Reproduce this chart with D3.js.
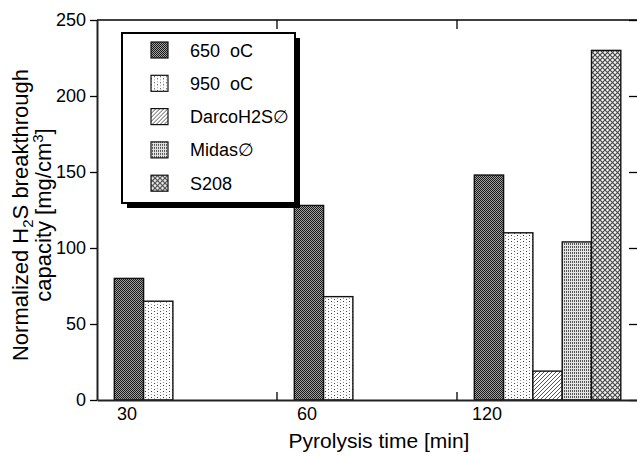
<!DOCTYPE html>
<html>
<head>
<meta charset="utf-8">
<script src="https://cdn.jsdelivr.net/npm/d3@7"></script>
<style>
  html, body { margin: 0; padding: 0; background: #fff; }
  text { font-family: Arial, "Liberation Sans", Helvetica, sans-serif; fill: #000; white-space: pre; }
</style>
</head>
<body>
<svg id="chart" width="637" height="457"></svg>
<script>
// ---- data ----
const categories = ["30", "60", "120"];
const seriesNames = ["650  oC", "950  oC", "DarcoH2S\u2205", "Midas\u2205", "S208"];
const values650 = [80, 128, 148];
const values950 = [65, 68, 110];
const valuesDarco = [null, null, 19];
const valuesMidas = [null, null, 104];
const valuesS208 = [null, null, 230];
const yTicks = [0, 50, 100, 150, 200, 250];

const seriesValues = [values650, values950, valuesDarco, valuesMidas, valuesS208];
const patternIds = ["p650", "p950", "pDarco", "pMidas", "pS208"];

const svg = d3.select("#chart");
const defs = svg.append("defs");

// patterns
function pat(id, w, h) {
  return defs.append("pattern").attr("id", id).attr("patternUnits", "userSpaceOnUse")
    .attr("width", w).attr("height", h);
}
{ // 650: dark checker
  const p = pat("p650", 2, 2);
  p.append("rect").attr("width", 2).attr("height", 2).attr("fill", "#a0a0a0");
  p.append("rect").attr("x", 0).attr("y", 0).attr("width", 1).attr("height", 1).attr("fill", "#1a1a1a");
  p.append("rect").attr("x", 1).attr("y", 1).attr("width", 1).attr("height", 1).attr("fill", "#1a1a1a");
}
{ // 950: sparse dots
  const p = pat("p950", 6, 6);
  p.append("rect").attr("width", 6).attr("height", 6).attr("fill", "#fff");
  p.append("rect").attr("x", 1).attr("y", 1).attr("width", 1).attr("height", 1).attr("fill", "#333");
  p.append("rect").attr("x", 4).attr("y", 2).attr("width", 1).attr("height", 1).attr("fill", "#999");
  p.append("rect").attr("x", 1).attr("y", 4).attr("width", 1).attr("height", 1).attr("fill", "#999");
  p.append("rect").attr("x", 4).attr("y", 5).attr("width", 1).attr("height", 1).attr("fill", "#444");
}
{ // Darco: diagonal hatch
  const p = pat("pDarco", 4, 4);
  p.append("rect").attr("width", 4).attr("height", 4).attr("fill", "#fff");
  p.append("path").attr("d", "M-1,1 L1,-1 M0,4 L4,0 M3,5 L5,3").attr("stroke", "#555").attr("stroke-width", 1);
}
{ // Midas: dense vertical dotted
  const p = pat("pMidas", 2, 3);
  p.append("rect").attr("width", 2).attr("height", 3).attr("fill", "#e4e4e4");
  p.append("rect").attr("x", 0).attr("y", 0).attr("width", 1).attr("height", 2).attr("fill", "#555");
}
{ // S208: crosshatch diamonds
  const p = pat("pS208", 5, 5);
  p.append("rect").attr("width", 5).attr("height", 5).attr("fill", "#f2f2f2");
  p.append("path").attr("d", "M0,0 L5,5 M5,0 L0,5").attr("stroke", "#444").attr("stroke-width", 1.1);
}

// scales
const pLeft = 97, pRight = 637, pTop = 20, pBottom = 400;
const x0 = d3.scaleBand().domain(categories).range([pLeft, pRight]).paddingInner(0).paddingOuter(0);
const gw = x0.bandwidth();
const x1 = d3.scaleBand().domain(seriesNames).range([17.3, 17.3 + 146.5]).padding(0);
const y = d3.scaleLinear().domain([0, 250]).range([pBottom, pTop]);

// bars
const barData = [];
categories.forEach((c, ci) => {
  seriesNames.forEach((s, si) => {
    const v = seriesValues[si][ci];
    if (v != null) barData.push({ c, s, si, v });
  });
});
svg.append("g").selectAll("rect").data(barData).join("rect")
  .attr("x", d => x0(d.c) + x1(d.s))
  .attr("y", d => y(d.v))
  .attr("width", x1.bandwidth())
  .attr("height", d => y(0) - y(d.v))
  .attr("fill", d => `url(#${patternIds[d.si]})`)
  .attr("stroke", "#111").attr("stroke-width", 1.4);

// axes
const yAxis = svg.append("g").attr("transform", `translate(${pLeft},0)`)
  .call(d3.axisLeft(y).tickValues(yTicks).tickSize(7).tickSizeOuter(0).tickPadding(4));
yAxis.selectAll("text").attr("font-size", 18);
const yAxisR = svg.append("g").attr("transform", `translate(${pRight},0)`)
  .call(d3.axisLeft(y).tickValues(yTicks).tickSize(8).tickSizeOuter(0).tickFormat(""));
yAxisR.select(".domain").remove();

const xAxis = svg.append("g").attr("transform", `translate(0,${pBottom})`)
  .call(d3.axisBottom(x0).tickSize(0).tickSizeOuter(0).tickPadding(7));
xAxis.selectAll("text").attr("font-size", 18)
  .attr("dx", -(gw / 2 - x1(seriesNames[0]) - x1.bandwidth() / 2 + 2));

// top line
svg.append("line").attr("x1", pLeft).attr("x2", pRight).attr("y1", pTop).attr("y2", pTop)
  .attr("stroke", "#000").attr("stroke-width", 1.5);

// separator ticks
const seps = categories.slice(1).map(c => x0(c));
svg.append("g").selectAll("line").data(seps).join("line")
  .attr("x1", d => d).attr("x2", d => d).attr("y1", pBottom).attr("y2", pBottom - 8)
  .attr("stroke", "#000").attr("stroke-width", 1.3);
svg.append("g").selectAll("line").data(seps).join("line")
  .attr("x1", d => d).attr("x2", d => d).attr("y1", pTop).attr("y2", pTop + 9)
  .attr("stroke", "#000").attr("stroke-width", 1.3);

svg.selectAll(".domain").attr("stroke", "#222").attr("stroke-width", 2);
svg.selectAll(".tick line").attr("stroke", "#000").attr("stroke-width", 1.3);

// axis titles
svg.append("text").attr("x", 379).attr("y", 448).attr("text-anchor", "middle")
  .attr("font-size", 21).text("Pyrolysis time [min]");

const yl = svg.append("g").attr("transform", "translate(0,215) rotate(-90)");
const t1 = yl.append("text").attr("x", 0).attr("y", 28).attr("text-anchor", "middle").attr("font-size", 22);
t1.append("tspan").text("Normalized H");
t1.append("tspan").attr("font-size", 15).attr("dy", 5).text("2");
t1.append("tspan").attr("dy", -5).text("S breakthrough");
const t2 = yl.append("text").attr("x", 0).attr("y", 51).attr("text-anchor", "middle").attr("font-size", 22);
t2.append("tspan").text("capacity [mg/cm");
t2.append("tspan").attr("font-size", 15).attr("dy", -8).text("3");
t2.append("tspan").attr("dy", 8).text("]");

// legend
const lg = svg.append("g");
lg.append("rect").attr("x", 127).attr("y", 38).attr("width", 173).attr("height", 170).attr("fill", "#000");
lg.append("rect").attr("x", 122).attr("y", 33).attr("width", 173).attr("height", 170)
  .attr("fill", "#fff").attr("stroke", "#000").attr("stroke-width", 2);
const items = lg.selectAll("g.item").data(seriesNames).join("g").attr("class", "item")
  .attr("transform", (d, i) => `translate(0,${50 + i * 33.3})`);
items.append("rect").attr("x", 151).attr("y", -8).attr("width", 17).attr("height", 16)
  .attr("fill", (d, i) => `url(#${patternIds[i]})`).attr("stroke", "#111").attr("stroke-width", 1.2);
items.append("text").attr("x", 190).attr("y", 6.5).attr("font-size", 18).text(d => d);
</script>
</body>
</html>
